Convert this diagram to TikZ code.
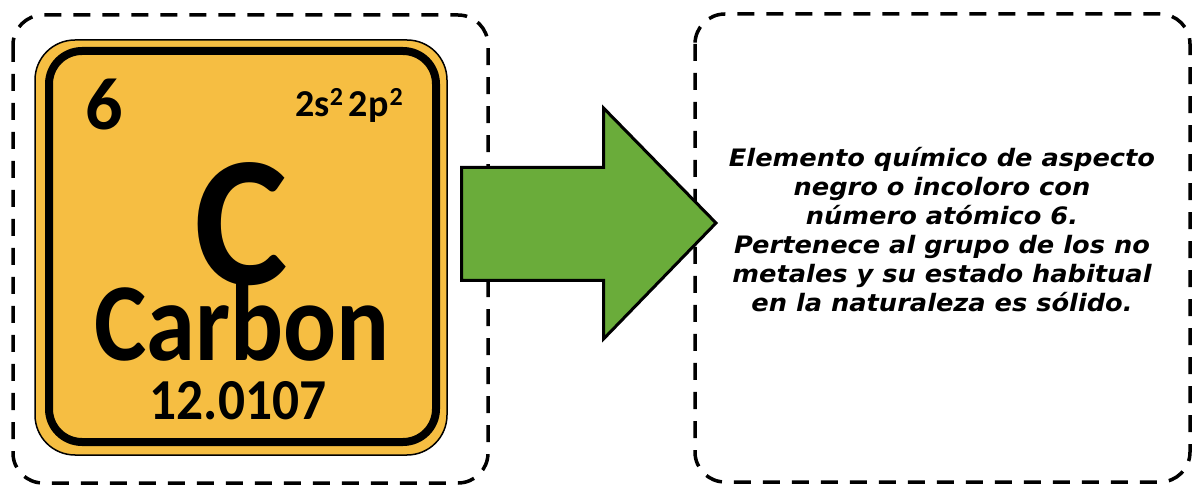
\documentclass[tikz,border=0pt]{standalone}
\usepackage{fontspec}
\setmainfont{Carlito}
\newfontfamily\hand[FakeStretch=1.07]{DejaVu Sans}
\definecolor{tileyellow}{RGB}{246,190,66}
\definecolor{arrowgreen}{RGB}{106,172,58}
\tikzset{
  dbox/.style={line width=3.5pt, dash pattern=on 17pt off 12pt, rounded corners=30pt},
  elemtext/.style={inner sep=0pt, text=black, font=\bfseries},
}
\newcommand{\squeeze}[2]{\scalebox{#1}[1]{#2}}
\begin{document}
\begin{tikzpicture}[x=1pt,y=-1pt]
\useasboundingbox (0,0) rectangle (1192,486);
% dashed frames
\draw[dbox] (13,15) rectangle (488,483);
\draw[dbox] (695,14) rectangle (1190,482);
% element tile
\draw[fill=tileyellow, line width=1.5pt, rounded corners=40pt] (35,40) rectangle (447,455);
\draw[line width=8pt, rounded corners=33pt] (49,51) rectangle (436,442);
\node[elemtext, anchor=base west] (num) at (85,130) {\fontsize{74}{74}\selectfont 6};
\node[elemtext, anchor=base east] (conf) at (403,117) {\fontsize{38}{38}\selectfont 2s\raisebox{11pt}{\fontsize{26}{26}\selectfont 2}\hspace{6pt}2p\hspace{1pt}\raisebox{11pt}{\fontsize{26}{26}\selectfont 2}};
\node[elemtext, anchor=base, text depth=0pt] (sym) at (241,285) {\fontsize{186}{186}\selectfont\squeeze{0.95}{C}};
\node[elemtext, anchor=base, text height=70pt, text depth=0pt] (name) at (242,361) {\fontsize{111}{111}\selectfont\squeeze{0.89}{Carbon}};
\node[elemtext, anchor=base, text height=37pt] (mass) at (238,420) {\fontsize{58}{58}\selectfont\squeeze{0.92}{12.0107}};
% arrow
\draw[line width=3pt, fill=arrowgreen, line join=miter]
  (461.5,167.5) -- (603.5,167.5) -- (603.5,108) -- (716,223) -- (603.5,339) -- (603.5,280.5) -- (461.5,280.5) -- cycle;
% description
\node[align=center, inner sep=0pt, font={\hand\bfseries\itshape\fontsize{24}{29}\selectfont}] (desc) at (942,230)
  {Elemento químico de aspecto\\negro o incoloro con\\número atómico 6.\\Pertenece al grupo de los no\\metales y su estado habitual\\en la naturaleza es sólido.};
\end{tikzpicture}
\end{document}
